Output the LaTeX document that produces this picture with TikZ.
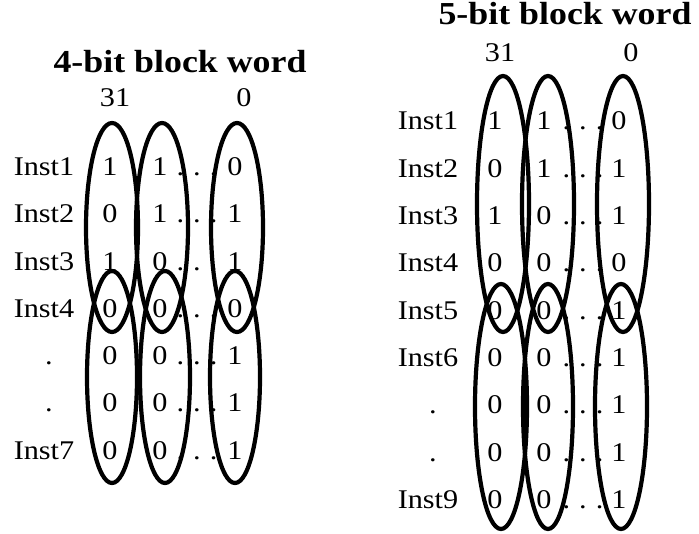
\documentclass[tikz,border=0pt]{standalone}
\usepackage{fontspec}
\setmainfont{Liberation Serif}[FakeStretch=1.12]
\usetikzlibrary{shapes.geometric}
\begin{document}
\begin{tikzpicture}[x=1pt,y=-1pt,
  txt/.style={inner sep=0pt, anchor=base, font=\fontsize{27}{30}\selectfont},
  ttl/.style={inner sep=0pt, anchor=base, font=\fontsize{32}{36}\selectfont\bfseries},
  group/.style={draw, ellipse, line width=4.2pt, inner sep=0pt},
]
\useasboundingbox (0,0) rectangle (699,534);

% ---- 4-bit block word ----
\node[ttl] (ltitle) at (180,73) {4-bit block word};
\node[txt] (lhi) at (115,107) {31};
\node[txt] (llo) at (244,107) {0};
\foreach \lab/\lx/\a/\b/\c [count=\i] in
  {Inst1/44/1/1/0, Inst2/44/0/1/1, Inst3/44/1/0/1, Inst4/44/0/0/0,
   ./49/0/0/1, ./49/0/0/1, Inst7/44/0/0/1}{
  \pgfmathsetmacro\yy{175.5+47.3*(\i-1)}
  \node[txt] (lrow\i) at (\lx,\yy) {\lab};
  \node[txt] (la\i) at (110,\yy) {\a};
  \node[txt] (lb\i) at (160,\yy) {\b};
  \node[txt] (ld\i) at (197,\yy) {.\,\,.\,\,.};
  \node[txt] (lc\i) at (235,\yy) {\c};
}
\node[group, minimum width=52pt, minimum height=209pt] (lu1) at (112,227.5) {};
\node[group, minimum width=52pt, minimum height=209pt] (lu2) at (162,227.5) {};
\node[group, minimum width=52pt, minimum height=209pt] (lu3) at (237,227.5) {};
\node[group, minimum width=50pt, minimum height=212pt] (ll1) at (112,377) {};
\node[group, minimum width=50pt, minimum height=212pt] (ll2) at (165,377) {};
\node[group, minimum width=50pt, minimum height=212pt] (ll3) at (235,377) {};

% ---- 5-bit block word ----
\node[ttl] (rtitle) at (565,25) {5-bit block word};
\node[txt] (rhi) at (500,62) {31};
\node[txt] (rlo) at (631,62) {0};
\foreach \lab/\lx/\a/\b/\c [count=\i] in
  {Inst1/428/1/1/0, Inst2/428/0/1/1, Inst3/428/1/0/1, Inst4/428/0/0/0,
   Inst5/428/0/0/1, Inst6/428/0/0/1, ./433/0/0/1, ./433/0/0/1, Inst9/428/0/0/1}{
  \pgfmathsetmacro\yy{130+47.3*(\i-1)}
  \node[txt] (rrow\i) at (\lx,\yy) {\lab};
  \node[txt] (ra\i) at (495,\yy) {\a};
  \node[txt] (rb\i) at (544,\yy) {\b};
  \node[txt] (rd\i) at (583,\yy) {.\,\,.\,\,.};
  \node[txt] (rc\i) at (619,\yy) {\c};
}
\node[group, minimum width=52pt, minimum height=256pt] (ru1) at (503,204) {};
\node[group, minimum width=52pt, minimum height=256pt] (ru2) at (548,204) {};
\node[group, minimum width=52pt, minimum height=256pt] (ru3) at (623,204) {};
\node[group, minimum width=52pt, minimum height=245pt] (rl1) at (501,406.5) {};
\node[group, minimum width=50pt, minimum height=245pt] (rl2) at (548,406.5) {};
\node[group, minimum width=52pt, minimum height=245pt] (rl3) at (621,406.5) {};
\end{tikzpicture}
\end{document}
